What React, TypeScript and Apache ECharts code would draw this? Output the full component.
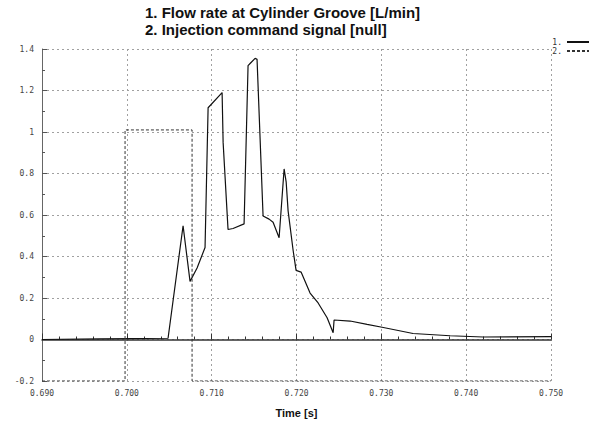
import React, { useEffect, useRef } from "react";
import * as echarts from "echarts";

const titleLines = [
  "1. Flow rate at Cylinder Groove [L/min]",
  "2. Injection command signal [null]",
];
const seriesNames = ["1.", "2."];
const xAxisName = "Time [s]";

// Flow rate at cylinder groove [L/min]
const flowTime = [
  0.69, 0.6968, 0.70486, 0.70663, 0.70745, 0.70828, 0.70922, 0.70958, 0.71123,
  0.71135, 0.71193, 0.71252, 0.71382, 0.71429, 0.71453, 0.71512, 0.71535,
  0.71606, 0.71677, 0.71724, 0.71795, 0.71854, 0.71878, 0.71901, 0.7196,
  0.71995, 0.72054, 0.7216, 0.72255, 0.72361, 0.72432, 0.72443, 0.72632,
  0.72832, 0.73009, 0.73374, 0.73811, 0.742, 0.75,
];
const flowValue = [
  0.0, 0.003, 0.006, 0.548, 0.28, 0.345, 0.443, 1.117, 1.19, 0.95, 0.53,
  0.535, 0.557, 1.32, 1.33, 1.355, 1.35, 0.595, 0.58, 0.565, 0.49, 0.822,
  0.76, 0.62, 0.43, 0.333, 0.325, 0.224, 0.176, 0.105, 0.033, 0.094, 0.089,
  0.073, 0.059, 0.029, 0.018, 0.012, 0.014,
];

// Injection command signal [null]
const signalTime = [0.69, 0.69979, 0.69979, 0.70769, 0.70769, 0.75];
const signalValue = [-0.2, -0.2, 1.01, 1.01, -0.2, -0.2];

const xMin = 0.69;
const xMax = 0.75;
const xInterval = 0.01;
const yMin = -0.2;
const yMax = 1.4;
const yInterval = 0.2;

export default function App() {
  const ref = useRef<HTMLDivElement>(null);
  useEffect(() => {
    document.body.style.margin = "0";
    if (!ref.current) return;
    const chart = echarts.init(ref.current, undefined, { renderer: "svg" });
    const mono = "DejaVu Sans Mono";
    const flowData = flowTime.map((t, i) => [t, flowValue[i]]);
    const signalData = signalTime.map((t, i) => [t, signalValue[i]]);
    chart.setOption({
      animation: false,
      backgroundColor: "#ffffff",
      title: {
        text: titleLines.join("\n"),
        left: 145,
        top: 4,
        padding: 0,
        textStyle: {
          fontFamily: "Liberation Sans",
          fontWeight: "bold",
          fontSize: 15,
          lineHeight: 17,
          color: "#111",
        },
      },
      legend: {
        orient: "vertical",
        right: 2,
        top: 38,
        align: "right",
        itemWidth: 22,
        itemHeight: 8,
        itemGap: 1,
        padding: 0,
        itemStyle: { opacity: 0, borderWidth: 0 },
        textStyle: { fontFamily: mono, fontSize: 8, color: "#333" },
        data: seriesNames,
      },
      grid: { left: 42, right: 41, top: 49, bottom: 38, containLabel: false },
      xAxis: {
        type: "value",
        min: xMin,
        max: xMax,
        interval: xInterval,
        name: xAxisName,
        nameLocation: "middle",
        nameGap: 26,
        nameTextStyle: {
          fontFamily: "Liberation Sans",
          fontWeight: "bold",
          fontSize: 11,
          color: "#111",
        },
        axisLine: { show: true, lineStyle: { color: "#333", width: 1.5 } },
        axisTick: { show: true, inside: true, length: 6, lineStyle: { color: "#333" } },
        minorTick: { show: true, splitNumber: 5, length: 3, lineStyle: { color: "#333" } },
        axisLabel: {
          fontFamily: mono,
          fontSize: 8,
          color: "#444",
          margin: 8,
          formatter: (v: number) => v.toFixed(3),
        },
        splitLine: { show: true, lineStyle: { color: "#a0a0a0", type: [2, 3], width: 1 } },
      },
      yAxis: {
        type: "value",
        min: yMin,
        max: yMax,
        interval: yInterval,
        axisLine: { show: true, lineStyle: { color: "#666", width: 1 } },
        axisTick: { show: true, inside: true, length: 5, lineStyle: { color: "#555" } },
        minorTick: { show: true, splitNumber: 2, length: 3, lineStyle: { color: "#555" } },
        axisLabel: {
          fontFamily: mono,
          fontSize: 8,
          color: "#444",
          margin: 8,
          formatter: (v: number) => String(Math.round(v * 10) / 10),
        },
        splitLine: { show: true, lineStyle: { color: "#a0a0a0", type: [2, 3], width: 1 } },
      },
      series: [
        {
          name: seriesNames[0],
          type: "line",
          data: flowData,
          showSymbol: false,
          symbol: "none",
          clip: true,
          lineStyle: { color: "#111", width: 1.2 },
          itemStyle: { color: "#777" },
        },
        {
          name: seriesNames[1],
          type: "line",
          data: signalData,
          showSymbol: false,
          symbol: "none",
          clip: true,
          lineStyle: { color: "#333", width: 1, type: [3, 2] },
          itemStyle: { color: "#555" },
        },
      ],
    });
    return () => chart.dispose();
  }, []);
  return <div ref={ref} style={{ width: 592, height: 423 }} />;
}
